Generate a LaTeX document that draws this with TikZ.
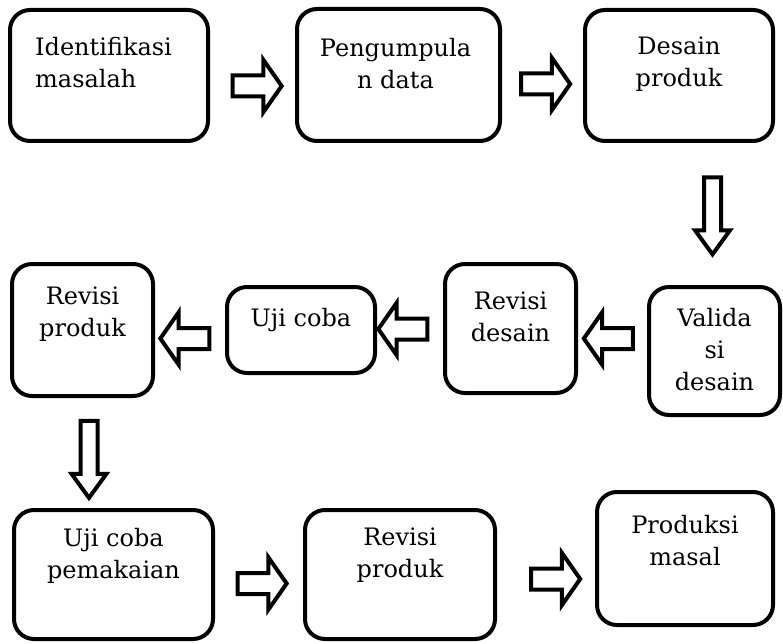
\documentclass[tikz,border=0pt]{standalone}
\usepackage{fontspec}
\setmainfont{DejaVu Serif}
\usetikzlibrary{shapes.arrows}
\newcommand\stagefont{\fontsize{24}{32}\selectfont}
\tikzset{
  stage/.style={draw, line width=4pt, rounded corners=20pt, inner sep=0pt},
  lbl/.style={align=center, inner sep=0pt, anchor=north, font=\stagefont},
  flat/.style={single arrow, draw, line width=4pt, inner sep=8.5pt,
    minimum height=49pt, minimum width=48pt, single arrow head extend=15.5pt,
    single arrow tip angle=110},
  tall/.style={single arrow, draw, line width=4pt, inner sep=6.5pt,
    minimum height=77pt, minimum width=31pt, single arrow head extend=9pt,
    single arrow tip angle=72, shape border rotate=270},
}
\begin{document}
\begin{tikzpicture}[x=1pt,y=1pt]
\useasboundingbox (0,0) rectangle (783,-644);
% top row
\node[stage, minimum width=198, minimum height=131] (idm) at (109,-75.5) {};
\node[stage, minimum width=203, minimum height=132] (pgd) at (398.5,-75) {};
\node[stage, minimum width=188, minimum height=131] (dsp) at (679,-75.5) {};
\node[lbl, anchor=north west, align=left] (idmtxt) at ([xshift=27,yshift=-29]idm.north west) {Identifikasi\\masalah};
\node[lbl] (pgdtxt) at ([xshift=-3,yshift=-31]pgd.north) {Pengumpula\\n data};
\node[lbl] (dsptxt) at ([yshift=-29]dsp.north) {Desain\\produk};
\node[flat] (a1) at (253.5,-86) {};
\node[flat] (a2) at (542,-84) {};
\node[tall] (a3) at (712.5,-210) {};
% middle row, right to left
\node[stage, minimum width=131, minimum height=128] (vsd) at (714.5,-351) {};
\node[stage, minimum width=131, minimum height=129] (rvd) at (510.5,-328.5) {};
\node[stage, minimum width=148, minimum height=86] (ujc) at (301,-330) {};
\node[stage, minimum width=141, minimum height=132] (rvp) at (82.5,-330) {};
\node[lbl] (vsdtxt) at ([yshift=-23]vsd.north) {Valida\\si\\desain};
\node[lbl] (rvdtxt) at ([yshift=-30]rvd.north) {Revisi\\desain};
\node[lbl] (ujctxt) at ([yshift=-23]ujc.north) {Uji coba};
\node[lbl] (rvptxt) at ([yshift=-25]rvp.north) {Revisi\\produk};
\node[flat, shape border rotate=180] (a4) at (612,-338.5) {};
\node[flat, shape border rotate=180] (a5) at (406.5,-329) {};
\node[flat, shape border rotate=180] (a6) at (188.5,-338.5) {};
\node[tall] (a7) at (89,-453.5) {};
% bottom row
\node[stage, minimum width=199, minimum height=129] (ucp) at (113.5,-574.5) {};
\node[stage, minimum width=190, minimum height=129] (rvq) at (400,-574.5) {};
\node[stage, minimum width=176, minimum height=133] (prm) at (685,-558.5) {};
\node[lbl] (ucptxt) at ([yshift=-20]ucp.north) {Uji coba\\pemakaian};
\node[lbl] (rvqtxt) at ([yshift=-20]rvq.north) {Revisi\\produk};
\node[lbl] (prmtxt) at ([yshift=-25]prm.north) {Produksi\\masal};
\node[flat] (a8) at (258.5,-583.5) {};
\node[flat] (a9) at (552,-579) {};
\end{tikzpicture}
\end{document}
